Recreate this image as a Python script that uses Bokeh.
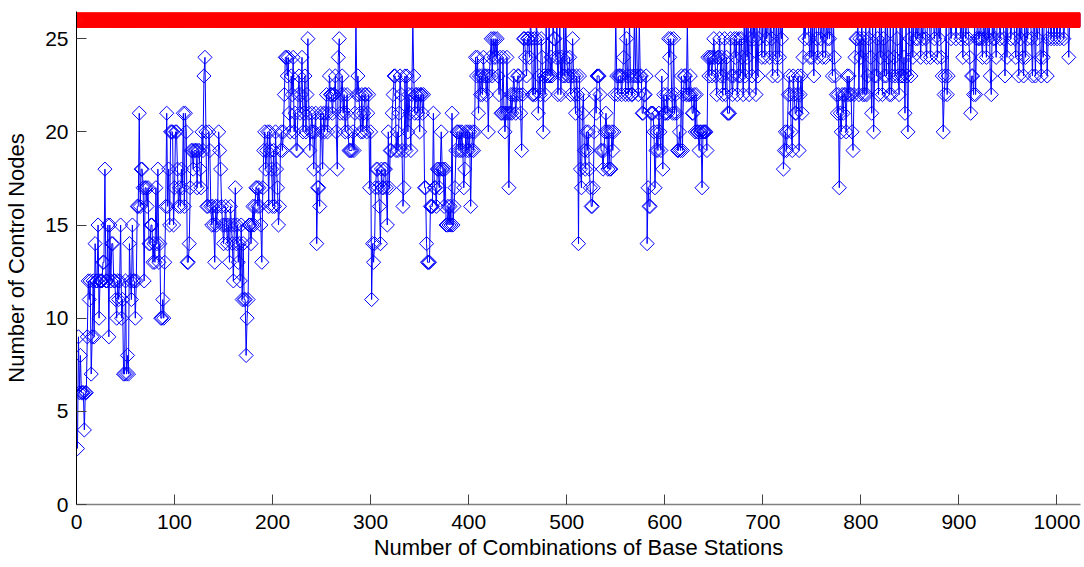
from math import pi
from bokeh.plotting import figure
from bokeh.models import Range1d, FixedTicker
from bokeh.embed import file_html
from bokeh.resources import INLINE

# Number of control nodes for each combination of base stations
control_nodes = [
    3, 9, 6, 8, 6, 6, 6, 4, 6, 6, 9, 12, 11, 12, 7, 9, 12, 9, 14, 12,
    12, 15, 10, 12, 12, 12, 13, 13, 18, 12, 12, 15, 9, 15, 12, 14, 14, 12, 12, 11,
    10, 12, 11, 12, 15, 10, 11, 7, 7, 12, 7, 8, 7, 14, 12, 11, 15, 12, 12, 10,
    12, 16, 16, 21, 16, 18, 18, 17, 12, 17, 17, 16, 17, 14, 14, 15, 15, 13, 14, 13,
    17, 14, 18, 13, 14, 10, 10, 11, 10, 13, 16, 21, 16, 18, 15, 20, 20, 20, 15, 17,
    20, 20, 18, 16, 17, 16, 18, 17, 21, 16, 21, 20, 13, 13, 14, 17, 19, 19, 18, 19,
    19, 19, 17, 19, 19, 18, 17, 20, 19, 23, 24, 20, 16, 16, 20, 19, 16, 15, 16, 15,
    13, 16, 15, 16, 20, 19, 18, 16, 15, 14, 15, 16, 15, 14, 15, 13, 16, 15, 14, 12,
    15, 17, 14, 15, 13, 14, 12, 15, 11, 14, 11, 11, 8, 10, 11, 15, 15, 14, 15, 16,
    15, 16, 17, 17, 16, 17, 16, 15, 13, 17, 19, 20, 18, 19, 20, 16, 20, 19, 18, 16,
    19, 16, 20, 18, 17, 15, 16, 19, 20, 19, 20, 22, 24, 24, 23, 24, 21, 20, 23, 22,
    24, 20, 21, 19, 19, 22, 23, 21, 22, 24, 20, 21, 23, 20, 22, 25, 21, 19, 20, 21,
    20, 18, 20, 21, 14, 17, 17, 16, 21, 20, 18, 21, 20, 21, 22, 20, 21, 23, 22, 22,
    21, 22, 22, 23, 20, 18, 24, 25, 21, 22, 23, 21, 22, 20, 21, 22, 20, 19, 19, 19,
    19, 20, 19, 21, 26, 22, 23, 22, 21, 20, 22, 20, 21, 22, 22, 20, 21, 22, 17, 20,
    11, 14, 13, 14, 17, 18, 18, 17, 16, 14, 18, 17, 17, 18, 18, 17, 15, 20, 17, 19,
    19, 21, 22, 23, 23, 19, 20, 19, 21, 23, 22, 19, 16, 17, 23, 19, 23, 20, 22, 21,
    19, 22, 26, 23, 21, 22, 22, 21, 22, 20, 22, 22, 21, 22, 17, 17, 14, 13, 13, 13,
    16, 16, 16, 21, 17, 17, 16, 18, 18, 17, 18, 20, 18, 18, 16, 18, 15, 15, 16, 15,
    16, 15, 21, 15, 16, 17, 19, 20, 20, 19, 20, 19, 20, 19, 17, 18, 20, 19, 20, 19,
    20, 16, 19, 20, 19, 20, 24, 23, 24, 21, 23, 22, 23, 22, 24, 23, 23, 22, 23, 20,
    23, 24, 25, 23, 25, 24, 25, 24, 25, 23, 22, 24, 21, 21, 24, 21, 20, 21, 24, 21,
    17, 21, 22, 21, 22, 23, 22, 21, 22, 23, 23, 22, 21, 19, 22, 25, 25, 24, 23, 25,
    25, 24, 26, 25, 22, 22, 25, 22, 26, 25, 21, 23, 22, 25, 24, 20, 23, 22, 26, 23,
    23, 26, 23, 24, 23, 26, 25, 25, 24, 26, 22, 24, 26, 22, 24, 23, 26, 23, 26, 24,
    23, 23, 24, 22, 23, 25, 23, 22, 21, 23, 22, 14, 23, 18, 17, 21, 22, 19, 18, 20,
    19, 20, 18, 17, 16, 16, 17, 20, 22, 21, 23, 23, 23, 22, 19, 19, 18, 19, 20, 21,
    20, 18, 20, 18, 18, 20, 19, 20, 22, 26, 23, 22, 23, 23, 23, 22, 23, 24, 26, 22,
    25, 23, 22, 26, 23, 22, 22, 23, 26, 23, 26, 23, 22, 26, 23, 23, 21, 21, 22, 22,
    23, 14, 17, 16, 16, 21, 21, 21, 20, 17, 19, 20, 19, 21, 20, 19, 23, 18, 22, 21,
    21, 22, 21, 25, 24, 25, 22, 21, 25, 21, 22, 21, 19, 19, 20, 19, 23, 19, 22, 23,
    23, 22, 26, 22, 22, 23, 22, 21, 21, 22, 20, 22, 20, 20, 19, 20, 20, 17, 20, 20,
    20, 20, 19, 24, 23, 24, 24, 23, 24, 25, 24, 23, 22, 24, 24, 25, 23, 24, 22, 23,
    25, 22, 24, 21, 21, 21, 25, 23, 22, 23, 25, 24, 25, 22, 23, 25, 23, 25, 24, 22,
    26, 23, 26, 24, 26, 22, 25, 26, 23, 26, 25, 26, 22, 26, 23, 25, 26, 26, 24, 26,
    26, 24, 26, 25, 26, 26, 24, 26, 25, 23, 26, 26, 24, 26, 23, 26, 24, 26, 25, 26,
    18, 19, 20, 19, 20, 22, 23, 22, 20, 19, 23, 22, 21, 21, 22, 23, 19, 22, 23, 21,
    24, 26, 25, 26, 26, 26, 25, 24, 26, 24, 26, 23, 26, 26, 25, 24, 26, 26, 25, 26,
    24, 26, 26, 24, 26, 25, 26, 25, 26, 26, 23, 26, 24, 23, 22, 21, 22, 17, 21, 20,
    22, 21, 22, 22, 20, 23, 22, 23, 22, 22, 20, 19, 22, 24, 25, 25, 26, 22, 25, 24,
    26, 22, 25, 22, 26, 22, 23, 25, 26, 24, 21, 26, 20, 23, 26, 23, 25, 22, 26, 24,
    26, 22, 25, 23, 26, 23, 26, 24, 22, 26, 22, 23, 26, 24, 23, 26, 25, 23, 22, 26,
    23, 26, 23, 24, 21, 26, 23, 20, 26, 25, 23, 26, 24, 26, 26, 25, 26, 25, 26, 26,
    24, 26, 25, 26, 26, 25, 24, 26, 26, 26, 24, 26, 26, 26, 25, 26, 26, 24, 26, 25,
    26, 24, 23, 20, 22, 23, 26, 22, 23, 26, 26, 25, 26, 26, 26, 26, 25, 26, 26, 26,
    26, 25, 26, 24, 26, 26, 25, 26, 26, 25, 24, 21, 23, 23, 22, 26, 22, 25, 26, 25,
    25, 26, 25, 24, 26, 25, 26, 24, 26, 25, 26, 23, 22, 26, 25, 26, 25, 24, 26, 26,
    26, 25, 26, 26, 26, 25, 23, 26, 24, 26, 26, 26, 25, 26, 26, 26, 25, 24, 26, 26,
    23, 26, 25, 26, 24, 23, 26, 24, 26, 25, 26, 26, 26, 25, 23, 26, 26, 23, 26, 25,
    26, 26, 24, 23, 26, 24, 26, 26, 26, 23, 25, 26, 26, 25, 26, 26, 25, 26, 26, 25,
    26, 26, 25, 26, 26, 26, 25, 26, 26, 26, 26, 24, 26, 26, 26, 26, 26, 26, 26, 26,
    26, 26, 26,
]
combination_index = list(range(1, len(control_nodes) + 1))
# Upper bound (total number of nodes) shown in red
total_nodes = [26] * len(control_nodes)

x_ticks = [0, 100, 200, 300, 400, 500, 600, 700, 800, 900, 1000]
y_ticks = [0, 5, 10, 15, 20, 25]

FONT = "Liberation Sans"

p = figure(width=1084, height=567, output_backend="svg", toolbar_location=None,
           x_range=Range1d(0, 1024), y_range=Range1d(0, 26.46),
           min_border_left=76, min_border_right=4, min_border_top=11, min_border_bottom=63)
p.outline_line_color = None
p.grid.visible = False
p.background_fill_color = "white"
p.border_fill_color = "white"

# blue series
p.line(combination_index, control_nodes, line_color="#0000ff", line_width=1)
p.scatter(combination_index, control_nodes, marker="square", angle=pi / 4, size=10,
          fill_color=None, line_color="#0000ff", line_width=1)
# red series
p.line(combination_index, total_nodes, line_color="#ff0000", line_width=1)
p.scatter(combination_index, total_nodes, marker="square", angle=pi / 4, size=10.5,
          fill_color=None, line_color="#ff0000", line_width=1.2)

p.xaxis.ticker = FixedTicker(ticks=x_ticks)
p.yaxis.ticker = FixedTicker(ticks=y_ticks)
p.xaxis.axis_label = "Number of Combinations of Base Stations"
p.yaxis.axis_label = "Number of Control Nodes"

for ax in (p.xaxis[0], p.yaxis[0]):
    ax.major_tick_in = 10
    ax.major_tick_out = 0
    ax.minor_tick_line_color = None
    ax.major_tick_line_color = "#404040"
    ax.major_label_text_font = FONT
    ax.major_label_text_font_size = "21px"
    ax.major_label_text_color = "black"
    ax.axis_label_text_font = FONT
    ax.axis_label_text_font_size = "22px"
    ax.axis_label_text_font_style = "normal"
    ax.axis_label_text_color = "black"

p.xaxis.axis_line_color = "#808080"
p.xaxis.axis_line_width = 1.5
p.xaxis.major_label_standoff = 10
p.xaxis.axis_label_standoff = 3
p.yaxis.axis_line_color = "black"
p.yaxis.axis_line_width = 1
p.yaxis.major_label_standoff = 8
p.yaxis.axis_label_standoff = 13

open("out.html", "w").write(file_html(p, INLINE))
